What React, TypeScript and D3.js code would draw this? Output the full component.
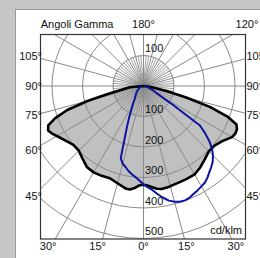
import React from "react";
import * as d3 from "d3";

// C0-C180 plane (black, filled) — gamma angles (deg) and intensities (cd/klm)
const blackLeftGamma = [0, 2.5, 5, 7.5, 10, 15, 20, 25, 30, 35, 40, 45, 50, 55, 60, 62.5, 65, 67.5, 70, 72.5, 75, 77.5, 80, 85, 90];
const blackLeftValue = [324, 326, 336, 342, 341, 330, 322, 325, 327, 324, 311, 300, 300, 312, 328, 338, 345, 338, 308, 262, 190, 120, 75, 45, 0];
const blackRightGamma = [0, 2.5, 5, 7.5, 10, 12.5, 15, 20, 25, 30, 35, 40, 45, 50, 55, 60, 62.5, 65, 67.5, 70, 72.5, 75, 77.5, 80, 85, 90];
const blackRightValue = [324, 327, 333, 340, 343, 342, 340, 337, 336, 335, 325, 313, 303, 304, 315, 335, 339, 338, 330, 293, 230, 145, 77, 35, 12, 0];

// C90-C270 plane (blue)
const blueLeftGamma = [0, 2.5, 5, 7.5, 10, 12.5, 15, 17.5, 20, 22.5, 25, 30, 35, 40, 45, 50, 55, 60, 70, 80, 90];
const blueLeftValue = [322, 310, 300, 292, 283, 272, 264, 248, 178, 138, 108, 70, 50, 40, 33, 28, 23, 18, 12, 7, 3];
const blueRightGamma = [0, 2.5, 5, 7.5, 10, 12.5, 15, 17.5, 20, 22.5, 25, 27.5, 30, 32.5, 35, 37.5, 40, 42.5, 45, 47.5, 50, 52.5, 55, 57.5, 60, 65, 70, 80, 90];
const blueRightValue = [322, 333, 343, 358, 372, 385, 393, 398, 399, 396, 390, 385, 380, 375, 366, 355, 346, 336, 322, 305, 282, 255, 226, 110, 60, 35, 22, 10, 3];

const ringValues = [100, 200, 300, 400, 500];
const ringLabelsBelow = ["100", "200", "300", "400", "500"];
const ringLabelsAbove = ["100"];
const sideLabelAngles = [105, 90, 75, 60, 45];
const bottomLabelAngles = [-30, -15, 0, 15, 30];
const topLabels = ["180°", "120°"];
const titleText = "Angoli Gamma";
const unitText = "cd/klm";

const W = 260;
const H = 258;
const box = { x0: 40.5, y0: 34.5, x1: 245.5, y1: 239 };
const cx = 143.5;
const cy = 86;
const font = "'Liberation Sans', Arial, sans-serif";

export default function App() {
  const r = d3.scaleLinear().domain([0, 500]).range([0, 152.5]);
  const rad = (d: number) => (d * Math.PI) / 180;

  const buildPts = (lg: number[], lv: number[], rg: number[], rv: number[]) => {
    const pts: [number, number][] = [];
    for (let i = lg.length - 1; i >= 0; i--) pts.push([Math.PI + rad(lg[i]), r(lv[i])]);
    for (let i = 1; i < rg.length; i++) pts.push([Math.PI - rad(rg[i]), r(rv[i])]);
    return pts;
  };
  const radial = d3.lineRadial<[number, number]>().angle((d) => d[0]).radius((d) => d[1]);
  const blackPath = radial(buildPts(blackLeftGamma, blackLeftValue, blackRightGamma, blackRightValue)) + "Z";
  const bluePath = radial(buildPts(blueLeftGamma, blueLeftValue, blueRightGamma, blueRightValue)) || "";

  const majorSpokes = d3.range(0, 360, 15);
  const minorSpokes = d3.range(0, 360, 5).filter((a) => a % 15 !== 0);
  const gridColor = "#8a8a8a";
  const textColor = "#111";

  return (
    <svg width={W} height={H} style={{ position: "absolute", left: 0, top: 0 }} fontFamily={font}>
      <defs>
        <clipPath id="boxclip">
          <rect x={box.x0} y={box.y0} width={box.x1 - box.x0} height={box.y1 - box.y0} />
        </clipPath>
      </defs>
      <rect x={0} y={0} width={W} height={H} fill="#c6c6c6" />
      <rect x={15.5} y={9.5} width={260} height={260} fill="#ffffff" stroke="#9a9a9a" strokeWidth={1} />

      <g clipPath="url(#boxclip)">
        <path d={blackPath} transform={`translate(${cx},${cy})`} fill="#c0c0c0" stroke="none" />
        {ringValues.map((v) => (
          <circle key={v} cx={cx} cy={cy} r={r(v)} fill="none" stroke={gridColor} strokeWidth={1} />
        ))}
        {majorSpokes.map((a) => (
          <line
            key={a}
            x1={cx}
            y1={cy}
            x2={cx + 320 * Math.sin(rad(a))}
            y2={cy + 320 * Math.cos(rad(a))}
            stroke={gridColor}
            strokeWidth={1}
          />
        ))}
        {minorSpokes.map((a) => (
          <line
            key={"m" + a}
            x1={cx}
            y1={cy}
            x2={cx + r(100) * Math.sin(rad(a))}
            y2={cy + r(100) * Math.cos(rad(a))}
            stroke={gridColor}
            strokeWidth={0.8}
          />
        ))}
        <path d={blackPath} transform={`translate(${cx},${cy})`} fill="none" stroke="#000" strokeWidth={2.6} strokeLinejoin="round" />
        <path d={bluePath} transform={`translate(${cx},${cy})`} fill="none" stroke="#0a14a0" strokeWidth={2} strokeLinejoin="round" />
      </g>
      <rect x={box.x0} y={box.y0} width={box.x1 - box.x0} height={box.y1 - box.y0} fill="none" stroke="#333" strokeWidth={1.2} />

      {ringValues.map((v, i) => (
        <text key={"b" + v} x={cx + 1.5} y={cy + r(v) - 3.5} fontSize={11} fill={textColor}>
          {ringLabelsBelow[i]}
        </text>
      ))}
      {ringLabelsAbove.map((t, i) => (
        <text key={"a" + t} x={cx + 1.5} y={cy - r(ringValues[i]) - 3.5} fontSize={11} fill={textColor}>
          {t}
        </text>
      ))}
      <text x={box.x1 - 3.5} y={233.5} fontSize={11} fill={textColor} textAnchor="end">
        {unitText}
      </text>

      <text x={40.7} y={28.3} fontSize={11} fill={textColor}>
        {titleText}
      </text>
      <text x={cx} y={28.3} fontSize={11} fill={textColor} textAnchor="middle">
        {topLabels[0]}
      </text>
      <text x={247} y={28.3} fontSize={11} fill={textColor} textAnchor="middle">
        {topLabels[1]}
      </text>

      {sideLabelAngles.map((g) => {
        const y = cy + 110.5 / Math.tan(rad(g));
        return (
          <g key={"s" + g}>
            <text x={42} y={y} dy="0.35em" fontSize={11} fill={textColor} textAnchor="end">
              {g + "°"}
            </text>
            <text x={246.5} y={y} dy="0.35em" fontSize={11} fill={textColor} textAnchor="start">
              {g + "°"}
            </text>
          </g>
        );
      })}
      {bottomLabelAngles.map((g) => {
        const x = cx + 160 * Math.tan(rad(g)) - (g < 0 ? 3 : 0);
        return (
          <text key={"bt" + g} x={x} y={250} fontSize={11} fill={textColor} textAnchor="middle">
            {Math.abs(g) + "°"}
          </text>
        );
      })}
    </svg>
  );
}
